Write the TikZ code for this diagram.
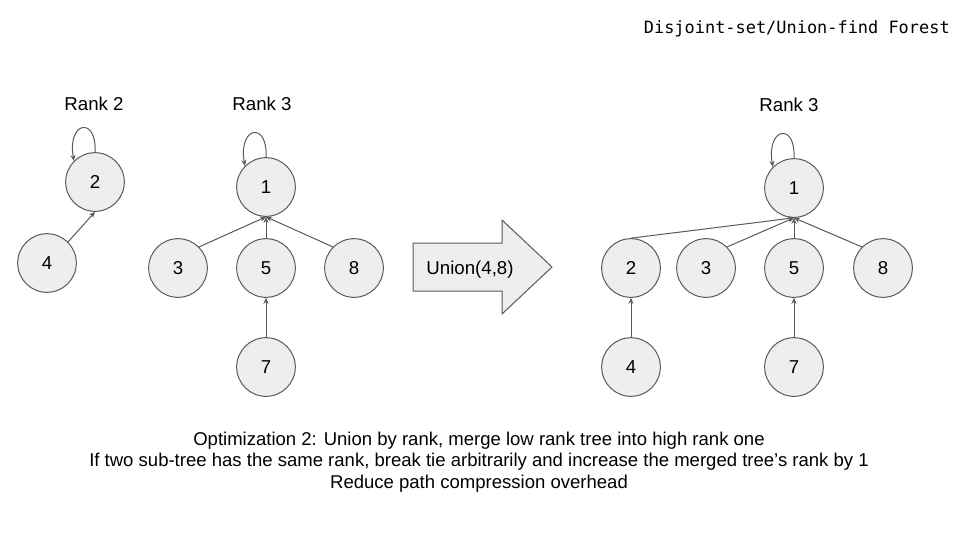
\documentclass[tikz,border=0pt]{standalone}
\usepackage{fontspec}
\setmainfont{Liberation Sans}
\newfontfamily\monof{DejaVu Sans Mono}
\usetikzlibrary{arrows.meta}
\definecolor{linec}{HTML}{595959}
\definecolor{fillc}{HTML}{EEEEEE}
\tikzset{
  vtx/.style={circle, draw=linec, fill=fillc, line width=0.75pt, minimum size=44pt, inner sep=0pt, font=\fontsize{14}{16}\selectfont},
  edge/.style={draw=linec, line width=0.75pt, -{Stealth[length=4.5pt,width=3.8pt]}},
  lbl/.style={font=\fontsize{14}{16}\selectfont, inner sep=0pt}
}
\begin{document}
\begin{tikzpicture}[x=0.75pt,y=-0.75pt]
\useasboundingbox (0,0) rectangle (960,540);
% title
\node[anchor=east, inner sep=0pt, font=\monof\fontsize{12.7}{15}\selectfont] (title) at (950,29) {Disjoint-set/Union-find Forest};
% rank labels
\node[lbl] (rA) at (94,104) {Rank 2};
\node[lbl] (rB) at (262,104) {Rank 3};
\node[lbl] (rC) at (789,105) {Rank 3};
% left tree A
\node[vtx] (a2) at (95,182) {2};
\node[vtx] (a4) at (47,263) {4};
% left tree B
\node[vtx] (b1) at (266,187) {1};
\node[vtx] (b3) at (178,268) {3};
\node[vtx] (b5) at (266,268) {5};
\node[vtx] (b8) at (354,268) {8};
\node[vtx] (b7) at (266,367) {7};
% right tree
\node[vtx] (c1) at (794,188) {1};
\node[vtx] (c2) at (631,268) {2};
\node[vtx] (c3) at (706,268) {3};
\node[vtx] (c5) at (794,268) {5};
\node[vtx] (c8) at (883,268) {8};
\node[vtx] (c4) at (631,367) {4};
\node[vtx] (c7) at (794,367) {7};
% edges left
\draw[edge] (a4.45) -- (a2.south);
\draw[edge] (a2.north) .. controls (97,116) and (67,121) .. (a2.135);
\draw[edge] (b1.north) .. controls (268,121) and (238,126) .. (b1.135);
\draw[edge] (b3.45) -- (b1.south);
\draw[edge] (b5.north) -- (b1.south);
\draw[edge] (b8.135) -- (b1.south);
\draw[edge] (b7.north) -- (b5.south);
% edges right
\draw[edge] (c1.north) .. controls (796,122) and (766,127) .. (c1.135);
\draw[edge] (c2.north) -- (c1.south);
\draw[edge] (c3.45) -- (c1.south);
\draw[edge] (c5.north) -- (c1.south);
\draw[edge] (c8.135) -- (c1.south);
\draw[edge] (c4.north) -- (c2.south);
\draw[edge] (c7.north) -- (c5.south);
% union arrow
\draw[draw=linec, fill=fillc, line width=0.75pt, line join=miter] (413,243) -- (502,243) -- (502,220) -- (552,267) -- (502,314) -- (502,291) -- (413,291) -- cycle;
\node[lbl] (union) at (470,270) {Union(4,8)};
% bottom text
\node[lbl, align=center, font=\fontsize{13.9}{16.1}\selectfont] (notes) at (479,462) {Optimization 2: Union by rank, merge low rank tree into high rank one\\If two sub-tree has the same rank, break tie arbitrarily and increase the merged tree’s rank by 1\\Reduce path compression overhead};
\end{tikzpicture}
\end{document}
